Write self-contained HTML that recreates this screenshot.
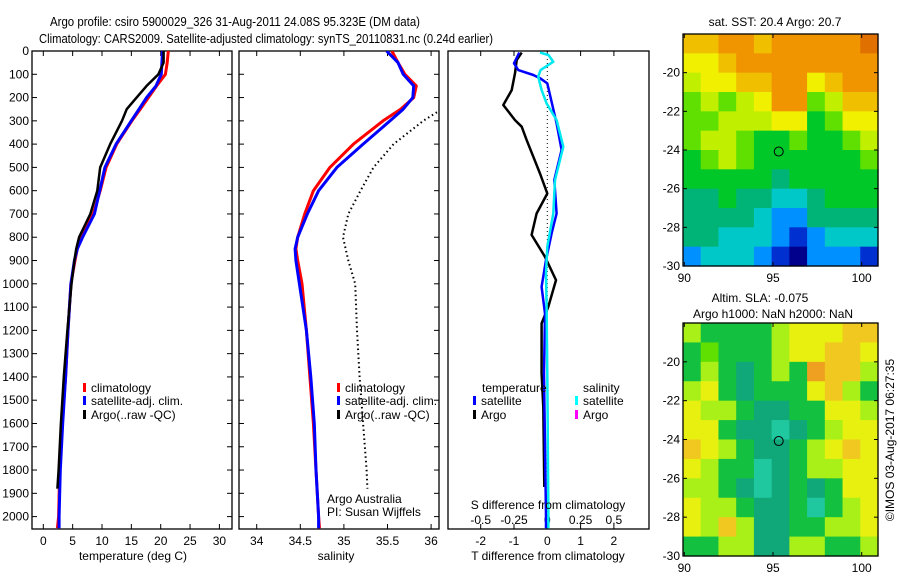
<!DOCTYPE html>
<html><head><meta charset="utf-8"><title>Argo profile</title>
<style>
html,body{margin:0;padding:0;background:#fff;}
svg{display:block;font-family:"Liberation Sans",Arial,sans-serif;}
text{font-size:12px;fill:#000;}
</style></head>
<body>
<svg id="fig" width="900" height="580" viewBox="0 0 900 580" xmlns="http://www.w3.org/2000/svg">
<text x="235" y="26" text-anchor="middle" textLength="370" lengthAdjust="spacingAndGlyphs" style="font-size:13px">Argo profile: csiro 5900029_326 31-Aug-2011 24.08S 95.323E (DM data)</text>
<text x="266" y="43" text-anchor="middle" textLength="454" lengthAdjust="spacingAndGlyphs" style="font-size:13px">Climatology: CARS2009. Satellite-adjusted climatology: synTS_20110831.nc (0.24d earlier)</text>
<g id="plots"></g>
</svg>
<script>
// ---- data ----
const depths = [0,50,100,150,200,250,300,400,500,600,700,800,850,900,1000,1200,1400,1600,1800,2000,2050];
const tempClim = [21.3,21.1,20.8,19.3,17.9,16.5,15.1,12.5,10.7,9.7,8.5,6.5,5.8,5.4,4.7,4.2,3.8,3.2,2.8,2.6,2.4];
const tempSat  = [20.3,20.2,20.1,19.2,17.6,16.3,15.0,12.4,10.5,9.6,8.7,6.7,5.8,5.3,4.7,4.2,3.8,3.3,2.9,2.7,2.7];
const argoDepths = [0,50,100,150,200,250,300,400,500,600,700,800,850,900,1000,1200,1400,1600,1800,1880];
const tempArgo = [20.5,20.5,19.6,17.6,15.9,14.2,13.4,11.4,9.7,9.2,8.0,6.1,5.6,5.3,4.8,4.1,3.5,3.0,2.6,2.4];
const salClim = [35.55,35.62,35.70,35.83,35.80,35.65,35.45,35.11,34.84,34.65,34.55,34.47,34.45,34.47,34.52,34.57,34.61,34.65,34.68,34.71,34.72];
const salSat  = [35.49,35.62,35.68,35.80,35.79,35.68,35.53,35.22,34.92,34.71,34.58,34.47,34.44,34.45,34.49,34.57,34.62,34.66,34.68,34.71,34.71];
const salArgoDepths = [200,260,300,400,500,600,700,800,900,1000,1200,1400,1600,1800,1880];
const salArgo = [36.5,36.08,35.91,35.57,35.34,35.19,35.05,34.99,35.05,35.13,35.15,35.18,35.22,35.26,35.27];
const dTArgoDepths = [7,39,96,168,232,297,325,383,454,526,612,698,790,884,984,1099,1170,1385,1529,1873];
const dTArgo = [-0.77,-0.92,-0.97,-1.07,-1.32,-0.97,-0.77,-0.62,-0.42,-0.22,0,-0.32,-0.47,-0.07,0.26,0.03,-0.17,-0.17,-0.12,-0.09];
const dTSatDepths = [7,53,82,103,117,139,311,425,554,698,784,898,1013,1128,1385,2002,2050];
const dTSat = [-0.84,-1.0,-0.87,-0.42,-0.22,0,0.28,0.43,0.21,0.28,0.13,-0.04,-0.17,-0.07,-0.1,-0.04,-0.04];
const dSSatDepths = [7,17,46,82,110,168,225,297,411,554,698,841,955,1099,1385,2002,2050];
const dSSat = [-0.055,0.008,0.045,-0.05,-0.068,-0.043,-0.005,0.07,0.12,0.058,0.045,0,-0.01,-0.005,0,0.008,0.008];
const depthTicks = [0,100,200,300,400,500,600,700,800,900,1000,1100,1200,1300,1400,1500,1600,1700,1800,1900,2000];
const tempTicks = [0,5,10,15,20,25,30];
const salTicks = [34,34.5,35,35.5,36];
const dTTicks = [-2,-1,0,1,2];
const dSTicks = [-0.5,-0.25,0,0.25,0.5];
const dSTickLabels = ["-0.5","-0.25","0","0.25","0.5"];
const latTicks = [-20,-22,-24,-26,-28,-30];
const lonTicks = [90,95,100];
const sstGrid = [
"99aa9aaaaab","889aaaaaaaa","78899aa89aa","67678aa6799","66777885688",
"67765565567","56765555556","55555455555","44544334555","44443224444",
"44333212333","23332102221"];
const slaGrid = [
"75555788899","56555788998","5754575a997","78545558975","87754455887",
"88544345788","98754457898","87553457788","77543454588","87754453578",
"87974455778","55774477557"];
// ---- helpers ----
const NS="http://www.w3.org/2000/svg";
const root=document.getElementById('plots');
function el(tag,attrs,parent){const e=document.createElementNS(NS,tag);for(const k in attrs)e.setAttribute(k,attrs[k]);(parent||root).appendChild(e);return e;}
function txt(x,y,s,anchor,parent,size){const t=el('text',{x:x,y:y,'text-anchor':anchor||'start'},parent);if(size)t.style.fontSize=size+'px';t.textContent=s;return t;}
const Y0=51,Y1=529;
const yD=d=>Y0+d*0.2328;
function panel(x0,x1,name){
  const g=el('g',{});
  
  
  const r=el('rect',{x:x0,y:Y0,width:x1-x0,height:Y1-Y0,fill:'none',stroke:'#000','stroke-width':1.3},g);
  
  
  return g;
}
function line(xs,ds,fx,color,w,g,name,dash){
  const p=el('path',{d:xs.map((v,i)=>(i?'L':'M')+fx(v).toFixed(1)+','+yD(ds[i]).toFixed(1)).join(''),fill:'none',stroke:color,'stroke-width':w,'stroke-linejoin':'round'},g);
  if(dash)p.setAttribute('stroke-dasharray',dash);
  
  
  return p;
}
function xticks(ticks,labels,fx,x0,x1,g,ly){
  ticks.forEach((t,i)=>{const x=fx(t);
    el('line',{x1:x,x2:x,y1:Y0,y2:Y0+5,stroke:'#000'},g);
    el('line',{x1:x,x2:x,y1:Y1,y2:Y1-5,stroke:'#000'},g);
    if(ly){const l=txt(x,ly,labels[i],'middle',g);
      
      }
  });
}
function yticks(x0,x1,g,labels){
  depthTicks.forEach(d=>{const y=yD(d);
    el('line',{x1:x0,x2:x0+5,y1:y,y2:y,stroke:'#000'},g);
    el('line',{x1:x1,x2:x1-5,y1:y,y2:y,stroke:'#000'},g);
    if(labels){const l=txt(29,y+4,String(d),'end',g);
      
      }
  });
}
function legendEntry(x,y,color,label,g){
  const b=el('rect',{x:x,y:y-5,width:3,height:9,fill:color},g);
  const t=txt(x+8,y+4,label,'start',g);
  
  
}
// ---- panel 1: temperature ----
const fT=v=>43.3+v*5.87;
const g1=panel(32,232,'temperature-panel');
yticks(32,232,g1,true);
xticks(tempTicks,tempTicks.map(String),fT,32,232,g1,545);
line(tempClim,depths,fT,'#ff0000',3,g1,'temp-climatology-line');
line(tempSat,depths,fT,'#0000ff',3,g1,'temp-satellite-line');
line(tempArgo,argoDepths,fT,'#000',2.5,g1,'temp-argo-line');
legendEntry(83,388,'#f00','climatology',g1);
legendEntry(83,401,'#00f','satellite-adj. clim.',g1);
legendEntry(83,415,'#000','Argo(..raw -QC)',g1);
const xt1=txt(133,560,'temperature (deg C)','middle',g1);


// ---- panel 2: salinity ----
const fS=v=>256.7+(v-34)*87.2;
const g2=panel(239,439,'salinity-panel');
yticks(239,439,g2,false);
xticks(salTicks,salTicks.map(String),fS,239,439,g2,545);
const cp=el('clipPath',{id:'c2'},g2);el('rect',{x:239,y:Y0,width:200,height:Y1-Y0},cp);
const g2c=el('g',{'clip-path':'url(#c2)'},g2);
line(salClim,depths,fS,'#ff0000',3,g2c,'sal-climatology-line');
line(salSat,depths,fS,'#0000ff',3,g2c,'sal-satellite-line');
line(salArgo,salArgoDepths,fS,'#000',2,g2c,'sal-argo-dotted-line','1.5,3');
legendEntry(337,388,'#f00','climatology',g2);
legendEntry(337,401,'#00f','satellite-adj. clim.',g2);
legendEntry(337,415,'#000','Argo(..raw -QC)',g2);
txt(327,503,'Argo Australia','start',g2);
txt(327,516,'PI: Susan Wijffels','start',g2);
const xt2=txt(336,560,'salinity','middle',g2);


// ---- panel 3: differences ----
const fdT=v=>547.3+v*33.3;
const fdS=v=>547.3+v*133.2;
const g3=panel(448,649,'difference-panel');
xticks(dTTicks,dTTicks.map(String),fdT,448,649,g3,545);
dSTicks.forEach((t,i)=>{const l=txt(fdS(t),524,dSTickLabels[i],'middle',g3);
  
  });
el('line',{x1:fdT(0),x2:fdT(0),y1:Y0,y2:Y1,stroke:'#000','stroke-dasharray':'1,3'},g3);
line(dTArgo,dTArgoDepths,fdT,'#000',2.5,g3,'t-diff-argo-line');
line(dTSat,dTSatDepths,fdT,'#0000ff',2.5,g3,'t-diff-satellite-line');
line(dSSat,dSSatDepths,fdS,'#00e8f0',2.5,g3,'s-diff-satellite-line');
txt(482,392,'temperature','start',g3);
legendEntry(473,401,'#00f','satellite',g3);
legendEntry(473,415,'#000','Argo',g3);
txt(583,392,'salinity','start',g3);
legendEntry(575,401,'#0ff','satellite',g3);
legendEntry(575,415,'#f0f','Argo',g3);
txt(548,509,'S difference from climatology','middle',g3);
txt(548,560,'T difference from climatology','middle',g3);
// ---- maps ----
const sstColors={'0':'#00008c','1':'#0030d0','2':'#0090ff','3':'#00c8c8','4':'#00b478','5':'#00c828','6':'#60e000','7':'#c0f000','8':'#f0f000','9':'#f0c000','a':'#f09400','b':'#e07000'};
const slaColors={'3':'#20c8a0','4':'#10a878','5':'#14c040','6':'#60e000','7':'#a8f018','8':'#e8f010','9':'#f0c820','a':'#f0a020'};
function map(y0,y1,grid,colors,name){
  const x0=683,x1=878;
  const g=el('g',{});
  
  
  const fx=lon=>684.3+(lon-90)*17.74;
  const fy=lat=>y0+(-18-lat)*(y1-y0)/12;
  const cw=(x1-x0)/grid[0].length, ch=(y1-y0)/grid.length;
  grid.forEach((row,r)=>{[...row].forEach((c,k)=>{
    el('rect',{x:(x0+k*cw).toFixed(2),y:(y0+r*ch).toFixed(2),width:(cw+0.6).toFixed(2),height:(ch+0.6).toFixed(2),fill:colors[c]},g);
  });});
  el('rect',{x:x0,y:y0,width:x1-x0,height:y1-y0,fill:'none',stroke:'#000','stroke-width':1.3},g);
  latTicks.forEach(l=>{const y=fy(l);
    el('line',{x1:x0,x2:x0+4,y1:y,y2:y,stroke:'#000'},g);
    el('line',{x1:x1,x2:x1-4,y1:y,y2:y,stroke:'#000'},g);
    txt(680,y+4,String(l),'end',g);});
  lonTicks.forEach(l=>{const x=fx(l);
    el('line',{x1:x,x2:x,y1:y0,y2:y0+4,stroke:'#000'},g);
    el('line',{x1:x,x2:x,y1:y1,y2:y1-4,stroke:'#000'},g);
    txt(x,y1+16,String(l),'middle',g);});
  const c=el('circle',{cx:fx(95.323),cy:fy(-24.08),r:4.5,fill:'none',stroke:'#000','stroke-width':1},g);
  
  
}
map(34,266,sstGrid,sstColors,'sst-map');
map(323,556,slaGrid,slaColors,'sla-map');
txt(775,26,'sat. SST: 20.4 Argo: 20.7','middle');
txt(760,302,'Altim. SLA: -0.075','middle');
txt(773,318,'Argo h1000: NaN h2000: NaN','middle');
const cr=txt(0,0,'\u00a9IMOS 03-Aug-2017 06:27:35','middle');
cr.setAttribute('transform','translate(894,440) rotate(-90)');


</script>
</body></html>
